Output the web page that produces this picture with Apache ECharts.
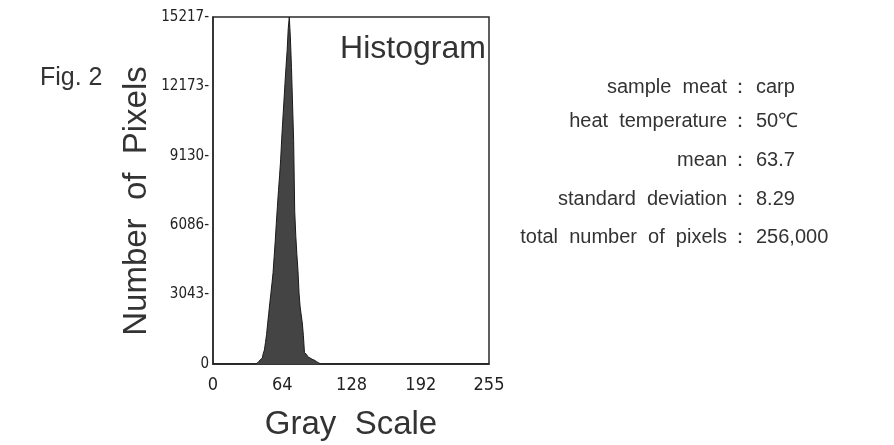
<!DOCTYPE html>
<html>
<head>
<meta charset="utf-8">
<script src="https://cdn.jsdelivr.net/npm/echarts@6/dist/echarts.min.js"></script>
<style>html,body{margin:0;padding:0;background:#fff}#c{width:894px;height:445px}</style>
</head>
<body>
<div id="c"></div>
<script>
// Gray levels with non-zero counts
const grayLevels = [38,39,40,41,42,43,44,45,46,47,48,49,50,51,52,53,54,55,56,57,58,59,60,61,62,63,64,65,66,67,68,69,70,71,72,73,74,75,76,77,78,79,80,81,82,83,84,85,86,87,88,89,90,91,92,93,94,95,96,97,98,99,100];
const pixelCounts = [0,10,20,50,80,110,180,255,330,470,616,950,1290,1780,2220,2680,3100,3540,4010,4700,5390,6170,6900,7600,8250,8950,9900,10700,11500,12300,13050,13750,14700,15217,14300,13000,11400,9800,6700,5600,4800,4100,3100,2500,2150,1800,1250,500,420,360,320,300,270,250,210,170,140,110,80,50,30,15,0];
const xTicks = [0,64,128,192,255];
const yTicks = [0,3043,6086,9130,12173,15217];
const infoLabels = ['sample  meat','heat  temperature','mean','standard  deviation','total  number  of  pixels'];
const infoValues = ['carp','50℃','63.7','8.29','256,000'];

const data = [[0,0]];
for (let i = 0; i < grayLevels.length; i++) data.push([grayLevels[i], pixelCounts[i]]);
data.push([255,0]);

const narrow = "'Liberation Sans Narrow','DejaVu Sans Condensed',sans-serif";
const sans = "'Liberation Sans',Arial,sans-serif";
const ink = '#2a2a2a';

const graphics = [
  {type:'text', x:40, y:78, style:{text:'Fig. 2', font:'25px '+sans, fill:'#333', verticalAlign:'middle'}},
  {type:'text', x:413, y:49, style:{text:'Histogram', font:'32px '+sans, fill:'#333', align:'center', verticalAlign:'middle'}},
  {type:'text', x:137, y:201, rotation:Math.PI/2, style:{text:'Number  of  Pixels', font:'33px '+sans, fill:'#333', align:'center', verticalAlign:'middle'}}
];
const rowY = [87,121,160,199,237];
for (let i = 0; i < infoLabels.length; i++) {
  graphics.push({type:'text', x:727, y:rowY[i], style:{text:infoLabels[i], font:'20px '+sans, fill:'#333', align:'right', verticalAlign:'middle'}});
  graphics.push({type:'text', x:740, y:rowY[i], style:{text:'：', font:'20px '+sans, fill:'#333', align:'center', verticalAlign:'middle'}});
  graphics.push({type:'text', x:756, y:rowY[i], style:{text:infoValues[i], font:'20px '+sans, fill:'#333', align:'left', verticalAlign:'middle'}});
}

const chart = echarts.init(document.getElementById('c'), null, {renderer:'canvas'});
chart.setOption({
  animation:false,
  backgroundColor:'#fff',
  grid:{left:213, right:405, top:17, bottom:81, outerBoundsMode:'none', containLabel:false, show:true, borderColor:ink, borderWidth:1.5, backgroundColor:'transparent'},
  xAxis:{
    type:'value', min:0, max:255,
    name:'Gray  Scale', nameLocation:'middle', nameGap:44,
    nameTextStyle:{fontFamily:sans, fontSize:33, color:'#333'},
    axisLine:{show:true, lineStyle:{color:ink, width:1.5}},
    axisTick:{show:false},
    splitLine:{show:false},
    axisLabel:{customValues:xTicks, fontFamily:narrow, fontSize:18, color:'#222', margin:12}
  },
  yAxis:{
    type:'value', min:0, max:15217,
    axisLine:{show:true, lineStyle:{color:ink, width:1.5}},
    axisTick:{show:false},
    splitLine:{show:false},
    axisLabel:{customValues:yTicks, fontFamily:narrow, fontSize:15, color:'#222', margin:4,
      formatter:function(v){return v===0?'0':v+'-';}}
  },
  series:[{
    type:'line', step:'middle', data:data, showSymbol:false, symbol:'none',
    lineStyle:{color:'#1a1a1a', width:1},
    areaStyle:{color:'#444', opacity:1}
  }],
  graphic:graphics
});
</script>
</body>
</html>
